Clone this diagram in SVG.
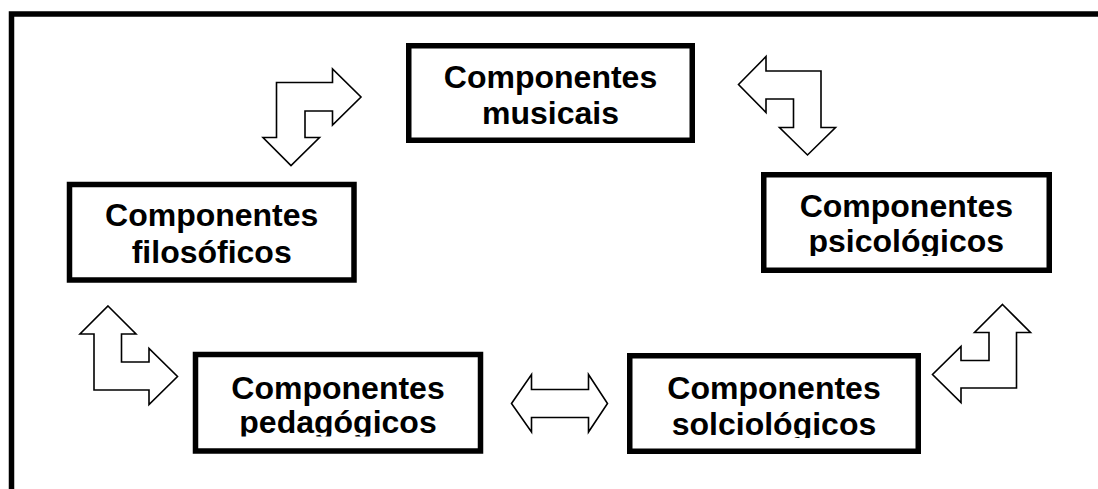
<svg xmlns="http://www.w3.org/2000/svg" width="1098" height="489" viewBox="0 0 1098 489">
<style>
.box{fill:#fff;stroke:#000;stroke-width:5.5}
.lbl{font-family:"Liberation Sans",Arial,sans-serif;font-weight:bold;font-size:32px;fill:#000;text-anchor:middle}
.arr{fill:#fff;stroke:#000;stroke-width:1.6;stroke-linejoin:miter}
.frame{fill:none;stroke:#000;stroke-width:5.5}
</style>
<defs>
<clipPath id="cpPsi"><rect x="761" y="172" width="291" height="84"/></clipPath>
<clipPath id="cpPed"><rect x="193" y="352" width="291" height="84.5"/></clipPath>
<clipPath id="cpSol"><rect x="627" y="353" width="294" height="85"/></clipPath>
</defs>
<rect width="1098" height="489" fill="#fff"/>
<path class="frame" d="M11.5 489 L11.5 14 L1098 14"/>
<g id="musicais">
<rect class="box" x="408.75" y="45.75" width="283.5" height="94.5"/>
<text class="lbl" x="550.5" y="87.5">Componentes</text>
<text class="lbl" x="550.5" y="124">musicais</text>
</g>
<g id="filosoficos">
<rect class="box" x="69.5" y="184.5" width="284.5" height="95.5"/>
<text class="lbl" x="211.7" y="226">Componentes</text>
<text class="lbl" x="211.7" y="263.3">filosóficos</text>
</g>
<g id="psicologicos">
<rect class="box" x="763.75" y="174.75" width="285.5" height="95.5"/>
<g clip-path="url(#cpPsi)">
<text class="lbl" x="906.3" y="216.7">Componentes</text>
<text class="lbl" x="906.3" y="252.3">psicológicos</text>
</g>
</g>
<g id="pedagogicos">
<rect class="box" x="195.5" y="354.5" width="285" height="96.5"/>
<g clip-path="url(#cpPed)">
<text class="lbl" x="338" y="399">Componentes</text>
<text class="lbl" x="338" y="433.3">pedagógicos</text>
</g>
</g>
<g id="solciologicos">
<rect class="box" x="629.75" y="355.75" width="288.5" height="95.5"/>
<g clip-path="url(#cpSol)">
<text class="lbl" x="774" y="398.5">Componentes</text>
<text class="lbl" x="774" y="434.5">solciológicos</text>
</g>
</g>
<g id="connectors">
<path class="arr" d="M276.5 82.5 L332.5 82.5 L332.5 69 L361 97 L332.5 125 L332.5 111 L305 111 L305 137.5 L319.5 137.5 L291 165.5 L263 137.5 L276.5 137.5 Z"/>
<path class="arr" d="M738.5 84.5 L766 56.5 L766 71 L821 71 L821 127.5 L835.5 127.5 L807.5 155 L779.5 127.5 L793.5 127.5 L793.5 99 L766 99 L766 112.5 Z"/>
<path class="arr" d="M108 306 L136 334 L121.5 334 L121.5 362 L149 362 L149 348.5 L177.5 376.5 L149 404.5 L149 390 L94 390 L94 334 L80 334 Z"/>
<path class="arr" d="M1002.5 304.5 L1030.5 332.5 L1016.5 332.5 L1016.5 388 L961 388 L961 402.5 L932.5 374.5 L961 346.5 L961 360.5 L989 360.5 L989 332.5 L974.5 332.5 Z"/>
<path class="arr" d="M511.5 403.5 L531.5 374.5 L531.5 389.5 L588.5 389.5 L588.5 374.5 L607.5 403.5 L588.5 432 L588.5 417.5 L531.5 417.5 L531.5 432 Z"/>
</g>
</svg>
